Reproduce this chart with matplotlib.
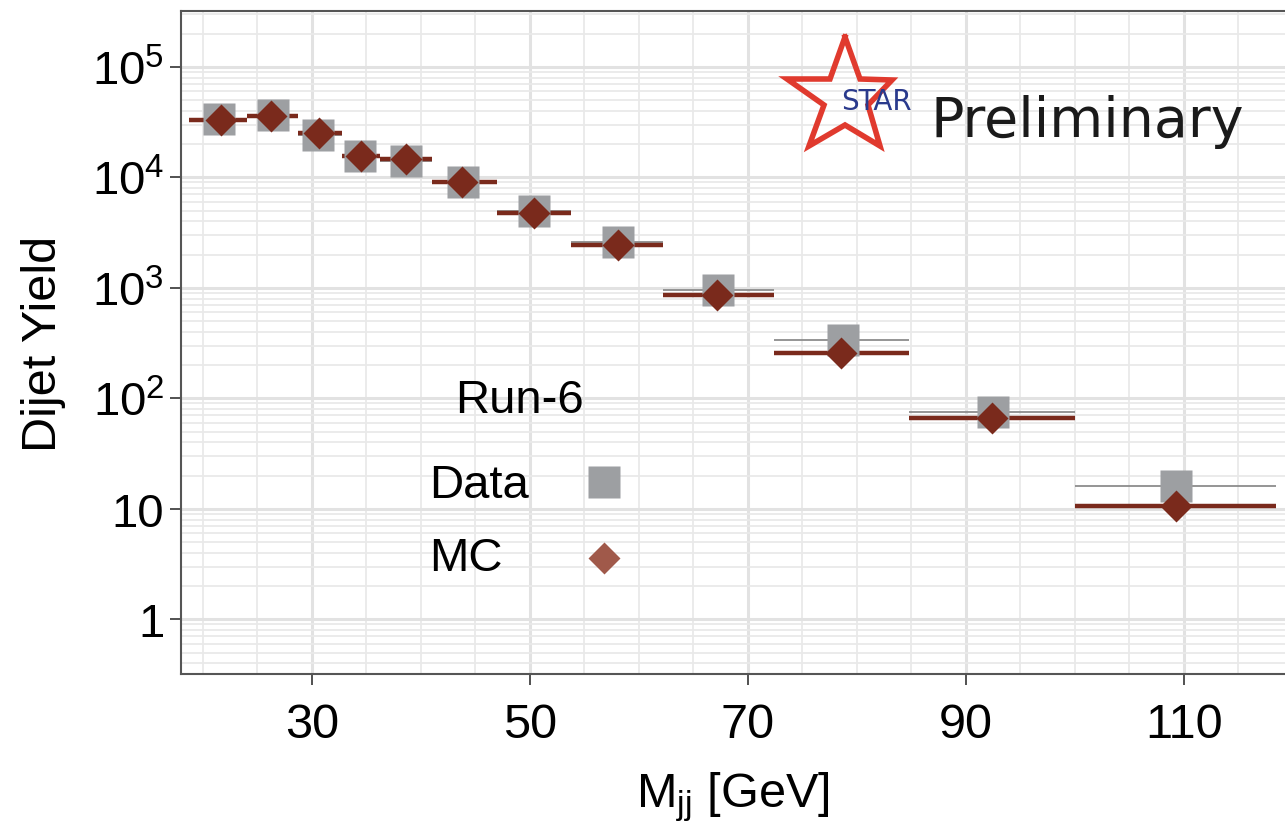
import matplotlib
matplotlib.use('Agg')
import matplotlib.pyplot as plt
import numpy as np
from matplotlib.ticker import MultipleLocator, FixedLocator, LogLocator, NullFormatter
from matplotlib.lines import Line2D

plt.rcParams['font.family'] = ['Liberation Sans', 'DejaVu Sans']

# bin edges in M_jj [GeV]
bin_lo = [18.7, 24.1, 28.7, 32.8, 36.3, 41.0, 47.0, 53.8, 62.2, 72.4, 84.8, 100.0]
bin_hi = [24.1, 28.7, 32.8, 36.3, 41.0, 47.0, 53.8, 62.2, 72.4, 84.8, 100.0, 118.5]
# point positions
mc_x = [21.7, 26.3, 30.7, 34.5, 38.6, 43.8, 50.4, 58.1, 67.2, 78.6, 92.4, 109.3]
mc_y = [33000, 36000, 25000, 15700, 14800, 9000, 4800, 2420, 860, 257, 66.5, 10.7]
data_x = [21.5, 26.4, 30.6, 34.4, 38.6, 43.9, 50.4, 58.1, 67.3, 78.7, 92.5, 109.3]
data_y = [34000, 37000, 24000, 15700, 14000, 9100, 5000, 2600, 950, 336, 75, 16.2]

red = '#7a2a1c'
grey = '#9d9fa2'

fig = plt.figure(figsize=(12.85, 8.28), dpi=100)
ax = fig.add_axes([181/1285, 1 - 675/828, (1285 - 181)/1285, (675 - 12)/828])

ax.hlines(data_y, bin_lo, bin_hi, color='#8c8c8c', lw=1.3, zorder=3)
ax.hlines(mc_y, bin_lo, bin_hi, color=red, lw=3.2, zorder=4)
ax.plot(data_x, data_y, 's', color=grey, ms=23, mec='none', zorder=5)
ax.plot(mc_x, mc_y, 'D', color=red, ms=16.5, mec='none', zorder=6)

ax.set_yscale('log')
ax.set_xlim(18.0, 119.3)
ax.set_ylim(0.32, 3.2e5)

ax.yaxis.set_major_locator(FixedLocator([1, 10, 100, 1e3, 1e4, 1e5]))
ax.set_yticklabels(['1', '10', r'$\mathregular{10^2}$', r'$\mathregular{10^3}$',
                    r'$\mathregular{10^4}$', r'$\mathregular{10^5}$'])
ax.yaxis.set_minor_locator(LogLocator(base=10, subs=np.arange(2, 10), numticks=20))
ax.yaxis.set_minor_formatter(NullFormatter())
ax.xaxis.set_major_locator(FixedLocator([30, 50, 70, 90, 110]))
ax.xaxis.set_minor_locator(MultipleLocator(5))

ax.grid(which='major', color='#e2e2e2', lw=2.2, zorder=0)
ax.grid(which='minor', color='#e9e9e9', lw=1.3, zorder=0)
ax.set_axisbelow(True)

ax.tick_params(which='major', direction='out', length=8, width=1.2, color='#333333')
ax.tick_params(which='minor', length=0)
ax.tick_params(axis='x', pad=12, labelsize=35)
ax.tick_params(axis='y', pad=4, labelsize=34)
for s in ['left', 'bottom', 'top']:
    ax.spines[s].set_color('#555555')
    ax.spines[s].set_linewidth(1.5)
ax.spines['right'].set_visible(False)

ax.set_ylabel('Dijet Yield', fontsize=35)
ax.yaxis.set_label_coords(-0.104, 0.5)
ax.set_xlabel(r'$\mathregular{M_{jj}}$ [GeV]', fontsize=35, labelpad=16)

# legend block
ax.text(0.307, 0.413, 'Run-6', transform=ax.transAxes, fontsize=34, ha='center', va='center')
ax.text(0.225, 0.285, 'Data', transform=ax.transAxes, fontsize=34, ha='left', va='center')
ax.text(0.225, 0.175, 'MC', transform=ax.transAxes, fontsize=34, ha='left', va='center')
ax.plot([0.383], [0.29], 's', color=grey, ms=23, mec='none', transform=ax.transAxes, zorder=7)
ax.plot([0.383], [0.175], 'D', color='#a0594a', ms=16, mec='none', transform=ax.transAxes, zorder=7)

# STAR logo
sx = [845, 860, 892, 868, 880, 845, 809, 824, 787, 830, 845]
sy = [38, 80, 81, 106, 147, 126, 147, 106, 80, 80, 38]
fig.add_artist(Line2D([x/1285 for x in sx], [1 - y/828 for y in sy],
                      transform=fig.transFigure, color='#e03a2e', lw=4, solid_joinstyle='miter'))
fig.text(876/1285, 1 - 102/828, 'STAR', color='#2a3a8c', fontsize=20, ha='center', va='center',
         family='DejaVu Sans')
fig.text(930/1285, 1 - 137/828, 'Preliminary', color='#1a1a1a', fontsize=40, ha='left', va='baseline',
         family='DejaVu Sans')

fig.savefig('out.png', dpi=100)
